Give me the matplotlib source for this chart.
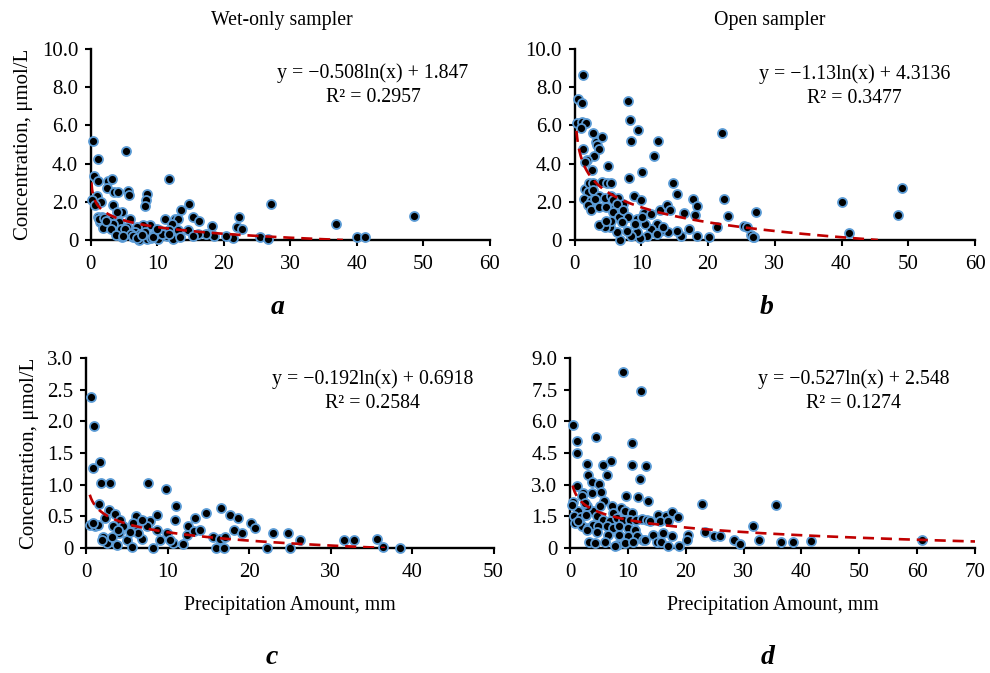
import numpy as np
import matplotlib
matplotlib.use("Agg")
import matplotlib.pyplot as plt

plt.rcParams['font.family'] = ['Liberation Serif', 'DejaVu Serif']

# ---------------- data ----------------
# Panel a: wet-only sampler (precip mm, concentration umol/L)
a_x = [0.4, 1.05, 5.3, 11.8, 0.55, 1.15, 2.65, 3.25, 2.5, 3.55, 4.05, 5.65, 5.8, 8.4, 8.3, 8.2,
       3.4, 1.0, 1.5, 0.15, 0.6, 4.65, 3.9, 5.9, 14.8, 13.6, 15.3, 16.3, 18.3, 11.2, 12.7, 13.1,
       12.2, 22.3, 22.0, 22.8, 27.1, 25.5, 26.7, 21.4, 20.3, 18.5, 17.4, 16.1, 14.6, 15.4, 13.1,
       11.7, 11.4, 10.2, 8.9, 7.8, 6.9, 5.9, 5.0, 4.65, 6.4, 7.2, 8.4, 9.1, 10.1, 12.4, 13.4,
       1.15, 1.65, 2.15, 1.4, 1.9, 2.4, 2.9, 3.15, 3.9, 4.3, 3.5, 4.1, 5.4, 6.6, 7.4, 8.2, 9.7,
       10.7, 11.7, 36.9, 40.0, 41.2, 48.6, 1.3, 2.0, 2.7, 3.3, 4.5, 5.2, 6.0, 6.3, 7.0, 7.7, 9.3,
       10.0, 1.8, 2.3, 3.0, 3.8, 4.8]
a_y = [5.17, 4.25, 4.68, 3.2, 3.33, 3.07, 3.07, 3.19, 2.72, 2.5, 2.5, 2.54, 2.33, 2.4, 2.1, 1.79,
       1.84, 2.28, 1.98, 2.1, 1.84, 1.49, 1.44, 1.09, 1.88, 1.58, 1.23, 1.02, 0.75, 1.09, 1.09, 1.09,
       0.82, 1.19, 0.7, 0.6, 1.88, 0.14, 0.05, 0.09, 0.2, 0.2, 0.3, 0.3, 0.5, 0.2, 0.5,
       0.5, 0.2, 0.5, 0.79, 0.79, 0.7, 0.5, 0.4, 0.14, 0.14, 0.0, 0.05, 0.1, 0.05, 0.05, 0.14,
       1.2, 1.2, 1.09, 0.96, 0.88, 0.8, 1.05, 0.7, 0.7, 0.96, 0.5, 0.4, 0.7, 0.4, 0.3, 0.4, 0.3,
       0.3, 0.3, 0.84, 0.17, 0.17, 1.28, 1.1, 1.15, 0.9, 0.85, 0.6, 0.55, 0.3, 0.2, 0.1, 0.25, 0.15,
       0.6, 0.65, 1.0, 0.6, 0.25, 0.2]

# Panel b: open sampler
b_x = [1.2, 0.57, 1.08, 8.05, 8.3, 9.55, 8.46, 12.45, 22.1, 0.33, 1.08, 1.72, 1.0, 2.8, 3.2,
       4.07, 3.3, 3.7, 1.32, 2.96, 1.82, 1.5, 11.95, 5.06, 2.67, 10.06, 8.2, 14.8, 15.3, 1.57,
       2.2, 2.8, 4.05, 4.8, 5.5, 2.0, 2.8, 3.7, 4.5, 5.5, 1.4, 2.4, 3.0, 2.0, 2.5, 3.7, 4.7,
       6.0, 6.5, 8.9, 10.0, 5.8, 7.3, 6.3, 5.8, 6.7, 7.3, 8.0, 9.3, 10.4, 11.4, 12.8, 13.8, 14.3,
       16.4, 17.7, 18.3, 18.1, 22.4, 23.0, 27.2, 25.4, 26.5, 26.9, 21.3, 20.2, 18.3, 17.2, 16.0,
       15.3, 14.0, 12.8, 12.3, 11.5, 10.9, 9.8, 9.3, 8.5, 7.8, 7.1, 6.8, 6.3, 5.3, 4.6, 3.7, 5.5,
       4.7, 9.0, 10.6, 10.1, 12.3, 13.3, 40.0, 41.1, 49.0, 48.5, 25.8, 26.8]
b_y = [8.65, 7.37, 7.16, 7.28, 6.28, 5.75, 5.17, 5.17, 5.58, 6.1, 6.19, 6.14, 5.86, 5.6, 5.14,
       5.37, 4.96, 4.75, 4.74, 4.38, 4.2, 4.1, 4.38, 3.86, 3.68, 3.56, 3.26, 2.98, 2.42, 2.68,
       2.98, 2.98, 3.06, 2.98, 2.98, 2.5, 2.6, 2.3, 2.2, 2.3, 2.16, 2.05, 2.13, 1.81, 1.58, 1.72, 1.72,
       1.72, 2.2, 2.28, 2.07, 2.1, 1.86, 1.88, 1.46, 1.2, 1.55, 1.2, 1.1, 1.4, 1.37, 1.58, 1.84, 1.55,
       1.4, 2.16, 1.8, 1.29, 2.16, 1.25, 1.45, 0.72, 0.28, 0.14, 0.66, 0.17, 0.22, 0.57, 0.22,
       0.48, 0.4, 0.48, 0.83, 0.57, 0.19, 0.08, 0.4, 0.22, 0.48, 0.92, 0.0, 0.4, 0.66, 0.66, 0.8, 1.0,
       1.0, 0.83, 0.83, 1.2, 0.3, 0.7, 1.98, 0.35, 2.74, 1.33, 0.7, 0.14]

# Panel c: wet-only sampler
c_x = [0.61, 0.98, 1.72, 0.82, 1.84, 2.94, 7.57, 9.78, 1.64, 11.04, 10.92, 14.72, 16.56, 17.67,
       18.7, 20.3, 20.7, 13.4, 8.67, 6.13, 7.0, 7.85, 2.86, 3.56, 4.17, 0.49, 1.1, 1.51, 2.33,
       3.35, 4.58, 5.89, 7.44, 8.75, 9.9, 10.7, 11.9, 12.35, 12.56, 13.2, 14.0, 15.6, 16.4, 17.1,
       18.1, 19.2, 16.0, 16.9, 22.2, 23.0, 2.1, 2.53, 3.76, 5.0, 5.6, 6.83, 8.26, 9.08, 10.3, 6.4,
       5.4, 4.0, 3.15, 1.92, 0.9, 3.97, 6.83, 5.8, 24.8, 26.2, 25.0, 31.6, 32.9, 35.7, 36.5, 38.5]
c_y = [2.39, 1.92, 1.36, 1.26, 1.03, 1.02, 1.02, 0.93, 0.69, 0.66, 0.45, 0.56, 0.63, 0.52,
       0.48, 0.39, 0.31, 0.47, 0.52, 0.5, 0.43, 0.43, 0.6, 0.54, 0.45, 0.36, 0.35, 0.36, 0.48,
       0.35, 0.34, 0.35, 0.34, 0.29, 0.23, 0.08, 0.06, 0.21, 0.35, 0.27, 0.29, 0.18, 0.15, 0.18,
       0.28, 0.23, 0.0, 0.0, 0.0, 0.24, 0.18, 0.08, 0.05, 0.13, 0.02, 0.15, 0.0, 0.13, 0.13, 0.23,
       0.25, 0.23, 0.18, 0.13, 0.4, 0.29, 0.45, 0.4, 0.24, 0.13, 0.0, 0.13, 0.13, 0.15, 0.02, 0.0]

# Panel d: open sampler
d_x = [9.1, 12.2, 0.46, 1.15, 1.2, 4.5, 10.66, 10.8, 13.1, 12.1, 11.8, 13.5, 9.68, 7.03, 5.76,
       6.45, 2.99, 3.05, 3.86, 5.0, 5.3, 3.86, 1.15, 2.3, 2.0, 0.58, 5.93, 7.2, 8.9, 9.5, 10.66,
       7.5, 4.03, 2.88, 1.44, 0.69, 1.84, 2.76, 4.6, 5.76, 6.9, 8.07, 9.1, 10.4, 11.4, 12.4,
       13.25, 15.27, 16.6, 17.57, 18.7, 13.8, 15.6, 17.0, 0.86, 2.0, 3.17, 4.03, 4.9, 6.34, 7.5,
       8.4, 10.1, 11.2, 2.88, 4.6, 6.6, 8.4, 10.1, 11.5, 12.7, 14.4, 16.1, 17.7, 3.34, 4.32, 6.05,
       8.07, 9.5, 10.9, 12.9, 15.1, 15.8, 17.0, 18.9, 7.78, 20.45, 20.2, 22.9, 23.4, 24.9, 26.0,
       28.3, 29.4, 31.6, 32.7, 0.29, 2.6, 1.44, 5.2, 35.6, 36.4, 38.5, 41.65, 60.8]
d_y = [8.33, 7.43, 5.85, 5.06, 4.51, 5.25, 4.98, 3.95, 3.87, 3.27, 2.42, 2.21, 2.45, 4.11, 3.92,
       3.48, 3.99, 3.48, 3.11, 3.05, 2.64, 2.6, 2.93, 2.6, 2.45, 2.16, 2.21, 1.98, 1.9, 1.74, 1.66,
       1.66, 1.74, 1.98, 1.74, 1.5, 1.47, 1.58, 1.5, 1.34, 1.26, 1.42, 1.34, 1.34, 1.34, 1.37,
       1.34, 1.58, 1.5, 1.69, 1.47, 1.26, 1.26, 1.26, 1.19, 1.06, 0.95, 1.11, 1.03, 1.03, 0.95,
       1.03, 0.95, 0.87, 0.84, 0.74, 0.63, 0.63, 0.55, 0.55, 0.4, 0.63, 0.71, 0.59, 0.27, 0.24, 0.3,
       0.16, 0.24, 0.3, 0.4, 0.3, 0.3, 0.08, 0.08, 0.08, 0.63, 0.4, 2.1, 0.74, 0.55, 0.59,
       0.4, 0.2, 1.03, 0.4, 2.05, 2.13, 1.26, 1.98, 2.05, 0.27, 0.27, 0.32, 0.4]

# trend coefficients y = k*ln(x) + c
coef_a = (-0.508, 1.847)
coef_b = (-1.13, 4.3136)
coef_c = (-0.192, 0.6918)
coef_d = (-0.527, 2.548)

eq_a = ["y = \u22120.508ln(x) + 1.847", "R\u00b2 = 0.2957"]
eq_b = ["y = \u22121.13ln(x) + 4.3136", "R\u00b2 = 0.3477"]
eq_c = ["y = \u22120.192ln(x) + 0.6918", "R\u00b2 = 0.2584"]
eq_d = ["y = \u22120.527ln(x) + 2.548", "R\u00b2 = 0.1274"]

# ---------------- figure ----------------
W, H = 990, 673
fig = plt.figure(figsize=(W / 100, H / 100), dpi=100)


def px_axes(l, r, t, b):
    return fig.add_axes([l / W, 1 - b / H, (r - l) / W, (b - t) / H])


FS = 15
TFS = 14.3
EDGE = '#5B9BD5'
RED = '#C00000'


def panel(ax, xs, ys, coef, xmax, ymax, xstep, ystep, yfmt, eq, eqpos, x0):
    ax.scatter(xs, ys, s=42, c='black', edgecolors=EDGE, linewidths=1.3,
               zorder=3, clip_on=False)
    k, c = coef
    xx = np.linspace(x0, xmax, 600)
    yy = k * np.log(xx) + c
    m = yy >= 0
    ax.plot(xx[m], yy[m], color=RED, lw=1.9, dashes=(4.2, 2.6), zorder=4)
    ax.set_xlim(0, xmax)
    ax.set_ylim(0, ymax)
    xt = np.arange(0, xmax + 0.001, xstep)
    yt = np.arange(0, ymax + 0.001, ystep)
    ax.set_xticks(xt)
    ax.set_xticklabels([f"{v:g}" for v in xt])
    ax.set_yticks(yt)
    ax.set_yticklabels(["0" if v == 0 else yfmt.format(v) for v in yt])
    for s in ['top', 'right']:
        ax.spines[s].set_visible(False)
    for s in ['left', 'bottom']:
        ax.spines[s].set_linewidth(1.7)
    ax.tick_params(direction='out', length=4, width=1.5, labelsize=FS)
    ax.tick_params(axis='x', pad=7)
    ax.tick_params(axis='y', pad=5)
    hpx = ax.get_position().height * H
    ax.text(eqpos[0], eqpos[1], eq[0], transform=ax.transAxes, ha='center',
            va='center', fontsize=TFS)
    ax.text(eqpos[0], eqpos[1] - 25 / hpx, eq[1],
            transform=ax.transAxes, ha='center', va='center', fontsize=TFS)


ax_a = px_axes(90.7, 490, 49, 240)
panel(ax_a, a_x, a_y, coef_a, 60, 10, 10, 2, "{:.1f}", eq_a, (0.707, 0.875), 0.1)
ax_b = px_axes(574.5, 975, 49, 240)
panel(ax_b, b_x, b_y, coef_b, 60, 10, 10, 2, "{:.1f}", eq_b, (0.70, 0.87), 0.29)
ax_c = px_axes(86, 493.5, 358, 548)
panel(ax_c, c_x, c_y, coef_c, 50, 3, 10, 0.5, "{:.1f}", eq_c, (0.704, 0.89), 0.46)
ax_d = px_axes(570, 975, 358, 548)
panel(ax_d, d_x, d_y, coef_d, 70, 9, 10, 1.5, "{:.1f}", eq_d, (0.70, 0.89), 0.46)

ax_a.set_ylabel("Concentration, \u03bcmol/L", fontsize=FS, labelpad=6)
ax_c.set_ylabel("Concentration, \u03bcmol/L", fontsize=FS, labelpad=6)
ax_c.set_xlabel("Precipitation Amount, mm", fontsize=TFS, labelpad=10)
ax_d.set_xlabel("Precipitation Amount, mm", fontsize=TFS, labelpad=10)

fig.text(282 / W, 1 - 20 / H, "Wet-only sampler", ha='center', va='center', fontsize=TFS)
fig.text(770 / W, 1 - 20 / H, "Open sampler", ha='center', va='center', fontsize=TFS)

for lab, x, y in [("a", 278, 308), ("b", 767, 308), ("c", 272, 658), ("d", 768, 658)]:
    fig.text(x / W, 1 - y / H, lab, ha='center', va='center', fontsize=20,
             fontweight='bold', fontstyle='italic')

fig.savefig("out.png", dpi=100)
